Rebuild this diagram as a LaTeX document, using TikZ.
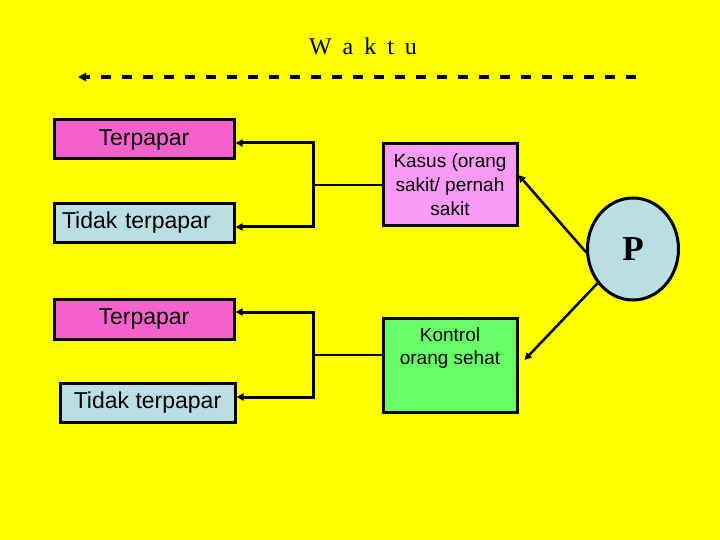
\documentclass[tikz,border=0pt]{standalone}
\usepackage{fontspec}
\setmainfont{Liberation Sans}
\newfontfamily\serifx{Liberation Serif}
\usetikzlibrary{arrows.meta,shapes.geometric}
\definecolor{bgyellow}{RGB}{255,255,0}
\definecolor{pinkA}{RGB}{246,98,204}
\definecolor{pinkB}{RGB}{250,155,245}
\definecolor{blueA}{RGB}{185,222,228}
\definecolor{greenA}{RGB}{102,255,102}
\tikzset{
  box/.style={draw=black, line width=3pt, rectangle, inner sep=0pt},
  lbl/.style={font=\fontsize{23}{27}\selectfont},
  conn/.style={draw=black, line width=3pt},
  thinconn/.style={draw=black, line width=2.2pt},
  arr/.style={conn, -{Triangle[length=7pt,width=7pt]}},
  timearr/.style={draw=black, line width=4pt, dash pattern=on 10pt off 11pt, -{Triangle[length=8pt,width=8pt]}}
}
\begin{document}
\begin{tikzpicture}[x=1pt,y=-1pt]
\path[fill=bgyellow, use as bounding box] (0,0) rectangle (720,540);

\node[font=\serifx\fontsize{24}{28}\selectfont, anchor=base] (waktu) at (363,55)
  {W\hspace{11pt}a\hspace{11pt}k\hspace{11pt}t\hspace{11pt}u};
\coordinate (dstart) at (636,77);
\coordinate (dend) at (78,77);
\draw[timearr] (dstart) -- (dend);

\node[box, lbl, fill=pinkA, minimum width=180pt, minimum height=39pt] (t1) at (144,139.5) {Terpapar};
\node[box, lbl, fill=blueA, minimum height=38pt, text width=164pt, inner xsep=8pt, align=left] (u1) at (144,223) {Tidak terpapar};
\node[box, lbl, fill=pinkA, minimum width=180pt, minimum height=40pt] (t2) at (144,319) {Terpapar};
\node[box, lbl, fill=blueA, minimum width=175pt, minimum height=39pt] (u2) at (147.5,402.5) {Tidak terpapar};

\node[box, fill=pinkB, minimum width=134pt, minimum height=82pt, align=center,
      font=\fontsize{19}{24}\selectfont] (kas) at (450,185) {Kasus (orang\\sakit/ pernah\\sakit};
\node[box, fill=greenA, minimum width=134pt, minimum height=94pt] (kon) at (450,365) {};
\node[align=center, font=\fontsize{19}{23}\selectfont] (kontxt) at (450,348.5) {Kontrol\\orang sehat};

\node[draw=black, line width=3pt, ellipse, fill=blueA, minimum width=91pt, minimum height=102pt, inner sep=0pt,
      font=\serifx\bfseries\fontsize{35}{40}\selectfont] (p) at (633,249) {P};

\coordinate (j1) at (313,185);
\coordinate (j2) at (313,355);
\draw[thinconn] (kas.west) -- (j1);
\draw[arr] (j1) |- ([yshift=-3.5pt]t1.east);
\draw[arr] (j1) |- ([yshift=-4pt]u1.east);
\draw[thinconn] (j2 -| kon.west) -- (j2);
\draw[arr] (j2) |- ([yshift=7pt]t2.east);
\draw[arr] (j2) |- ([yshift=5.5pt]u2.east);

\draw[arr, line width=2.5pt] (p.184) -- ([yshift=10pt]kas.east);
\draw[arr, line width=2.5pt] (p.224) -- ([xshift=6pt,yshift=5pt]kon.east);
\end{tikzpicture}
\end{document}
